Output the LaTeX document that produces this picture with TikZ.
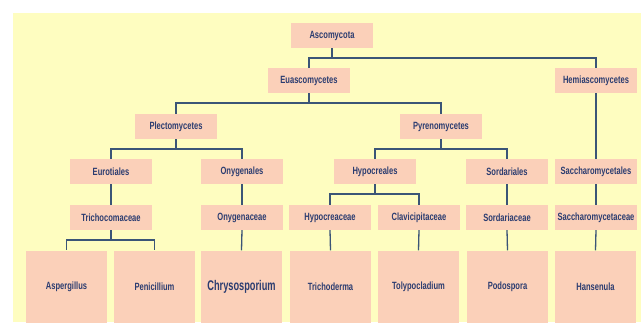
\documentclass[tikz,border=0pt]{standalone}
\usepackage{fontspec}
\setmainfont{Liberation Sans}[FakeStretch=0.72]
\newfontfamily\bignarrow{Liberation Sans}[FakeStretch=0.66]
\definecolor{bgyellow}{HTML}{FEFDC0}
\definecolor{boxpink}{HTML}{FBD0B9}
\definecolor{linecol}{HTML}{3B5577}
\definecolor{txtcol}{HTML}{2B3C70}
\begin{document}
\begin{tikzpicture}[x=1pt,y=-1pt,
  tbox/.style={fill=boxpink,draw=none,inner sep=0pt,minimum width=82pt,minimum height=24.7pt,
    font=\fontsize{10.5}{12}\selectfont\bfseries,text=txtcol},
  leaf/.style={tbox,minimum width=81pt,minimum height=72pt},
  conn/.style={draw=linecol,line width=1.3pt}]
\useasboundingbox (0,0) rectangle (642,322);
\fill[bgyellow] (13,13) rectangle (641,322);
% level 1
\node[tbox] (asc) at (332,35.5) {Ascomycota};
% level 2
\node[tbox] (eua) at (309,80.5) {Euascomycetes};
\node[tbox] (hem) at (596,80.5) {Hemiascomycetes};
% level 3
\node[tbox] (ple) at (176,126.5) {Plectomycetes};
\node[tbox] (pyr) at (441,126.5) {Pyrenomycetes};
% level 4
\node[tbox] (eur) at (111,171.5) {Eurotiales};
\node[tbox] (ony) at (242,171.5) {Onygenales};
\node[tbox] (hyp) at (375,171.5) {Hypocreales};
\node[tbox] (sor) at (507,171.5) {Sordariales};
\node[tbox] (sacl) at (596,171.5) {Saccharomycetales};
% level 5
\node[tbox] (tri) at (111,217.5) {Trichocomaceae};
\node[tbox] (onyc) at (242,217.5) {Onygenaceae};
\node[tbox] (hypc) at (330,217.5) {Hypocreaceae};
\node[tbox] (cla) at (419,217.5) {Clavicipitaceae};
\node[tbox] (sorc) at (507,217.5) {Sordariaceae};
\node[tbox] (sacc) at (596,217.5) {Saccharomycetaceae};
% level 6
\node[leaf] (asp) at (66.5,286.5) {Aspergillus};
\node[leaf] (pen) at (154.5,286.5) {Penicillium};
\node[leaf,font=\bignarrow\fontsize{14}{16}\selectfont\bfseries] (chr) at (241.5,286.5) {Chrysosporium};
\node[leaf] (trd) at (330.5,286.5) {Trichoderma};
\node[leaf] (tol) at (418.5,286.5) {Tolypocladium};
\node[leaf] (pod) at (507.5,286.5) {Podospora};
\node[leaf] (han) at (595.5,286.5) {Hansenula};
% connectors
\draw[conn] (asc.south) -- ++(0,10) -| (eua.north);
\draw[conn] (asc.south) -- ++(0,10) -| (hem.north);
\draw[conn] (eua.south) -- ++(0,10) -| (ple.north);
\draw[conn] (eua.south) -- ++(0,10) -| (pyr.north);
\draw[conn] (ple.south) -- ++(0,10) -| (eur.north);
\draw[conn] (ple.south) -- ++(0,10) -| (ony.north);
\draw[conn] (pyr.south) -- ++(0,10) -| (hyp.north);
\draw[conn] (pyr.south) -- ++(0,10) -| (sor.north);
\draw[conn] (hem.south) -- (sacl.north);
\draw[conn] (eur.south) -- (tri.north);
\draw[conn] (ony.south) -- (onyc.north);
\draw[conn] (hyp.south) -- ++(0,10) -| (hypc.north);
\draw[conn] (hyp.south) -- ++(0,10) -| (cla.north);
\draw[conn] (sor.south) -- (sorc.north);
\draw[conn] (sacl.south) -- (sacc.north);
\draw[conn] (tri.south) -- ++(0,10) -| (asp.north);
\draw[conn] (tri.south) -- ++(0,10) -| (pen.north);
\draw[conn] (onyc.south) -- (chr.north);
\draw[conn] (hypc.south) -- (trd.north);
\draw[conn] (cla.south) -- (tol.north);
\draw[conn] (sorc.south) -- (pod.north);
\draw[conn] (sacc.south) -- (han.north);
\end{tikzpicture}
\end{document}
